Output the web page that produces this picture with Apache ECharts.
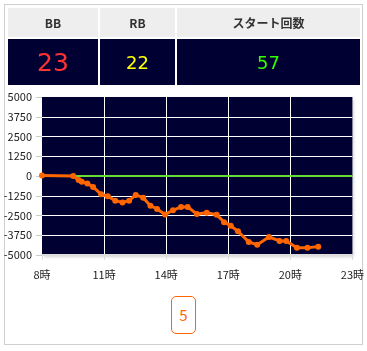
<!DOCTYPE html>
<html>
<head>
<meta charset="utf-8">
<script src="https://cdn.jsdelivr.net/npm/echarts@6/dist/echarts.min.js"></script>
<style>
html,body{margin:0;padding:0;width:367px;height:351px;background:#fff;overflow:hidden;font-family:"Noto Sans CJK JP","Noto Sans",sans-serif;}
#frame{position:absolute;left:4px;top:4px;width:357px;height:339px;border:1px solid #cfcfcf;box-sizing:content-box;}
#chart{position:absolute;left:0;top:0;width:367px;height:351px;}
table{position:absolute;left:6px;top:6px;width:356px;border-collapse:collapse;z-index:2;}
td,th{border:2px solid #fff;text-align:center;padding:0;}
th{background:#eeeeee;height:29px;font-size:12px;font-weight:bold;color:#333;}
td{background:#000033;height:46px;}
#btn{position:absolute;left:171px;top:296px;width:23px;height:36px;border:1px solid #ff6600;border-radius:5px;color:#ff6600;font-size:15px;line-height:36px;text-align:center;z-index:2;background:#fff;}
</style>
</head>
<body>
<div id="frame"></div>
<div id="chart"></div>
<table>
<tr><th style="width:90px">BB</th><th style="width:75px">RB</th><th>スタート回数</th></tr>
<tr><td id="c0"></td><td id="c1"></td><td id="c2"></td></tr>
</table>
<div id="btn">5</div>
<script>
var headers = ["BB", "RB", "スタート回数"];
var counts = [23, 22, 57];
var times = [8.0, 9.51, 9.77, 9.92, 10.19, 10.47, 10.86, 11.18, 11.54, 11.89, 12.21, 12.53, 12.89, 13.24, 13.56, 13.95, 14.33, 14.72, 15.04, 15.48, 15.96, 16.44, 16.8, 17.12, 17.47, 17.99, 18.4, 18.97, 19.48, 19.8, 20.32, 20.83, 21.35];
var values = [30, 0, -250, -370, -480, -690, -1160, -1280, -1560, -1670, -1560, -1200, -1370, -1880, -2090, -2430, -2170, -1960, -1960, -2400, -2320, -2450, -2920, -3150, -3500, -4170, -4350, -3860, -4110, -4110, -4540, -4540, -4470];
var yTicks = [-5000, -3750, -2500, -1250, 0, 1250, 2500, 3750, 5000];
var xTicks = [8, 11, 14, 17, 20, 23];

var styles = [
  {color:"#ff3333", size:"25px"},
  {color:"#ffff00", size:"18px"},
  {color:"#33ff00", size:"18px"}
];
for (var i = 0; i < counts.length; i++) {
  var c = document.getElementById("c" + i);
  c.textContent = counts[i];
  c.style.color = styles[i].color;
  c.style.fontSize = styles[i].size;
  c.style.fontFamily = '"DejaVu Sans", sans-serif';
}

var data = times.map(function (t, i) { return [t, values[i]]; });
var chart = echarts.init(document.getElementById("chart"), null, {renderer: "canvas"});
chart.setOption({
  animation: false,
  grid: {
    left: 42, right: 14.5, top: 97, height: 158,
    show: true, backgroundColor: "#000033", borderWidth: 0,
    shadowColor: "rgba(0,0,0,0.18)", shadowBlur: 3, shadowOffsetX: 2, shadowOffsetY: 2
  },
  xAxis: {
    type: "value", min: xTicks[0], max: xTicks[xTicks.length - 1], interval: 3,
    axisLine: {show: true, onZero: false, lineStyle: {color: "#dddddd", width: 2}},
    axisTick: {show: true, length: 5, lineStyle: {color: "#dddddd"}},
    axisLabel: {margin: 14, fontSize: 11, color: "#222", fontFamily: '"Noto Sans CJK JP", sans-serif',
      formatter: function (v) { return v + "時"; }},
    splitLine: {show: true, showMinLine: false, showMaxLine: false, lineStyle: {color: "#ffffff", width: 1}}
  },
  yAxis: {
    type: "value", min: yTicks[0], max: yTicks[yTicks.length - 1], interval: 1250,
    axisLine: {show: false},
    axisTick: {show: true, length: 6, lineStyle: {color: "#cccccc"}},
    axisLabel: {margin: 10, fontSize: 11, color: "#222", fontFamily: '"Noto Sans CJK JP", sans-serif',
      formatter: function (v) { return String(v); }},
    splitLine: {show: true, showMinLine: false, showMaxLine: false, lineStyle: {color: "#ffffff", width: 1}}
  },
  series: [{
    type: "line",
    data: data,
    symbol: "circle",
    symbolSize: 6,
    lineStyle: {color: "#ff6600", width: 3},
    itemStyle: {color: "#ff6600"},
    z: 5,
    markLine: {
      silent: true, symbol: "none", label: {show: false},
      lineStyle: {color: "#66dd33", width: 2, type: "solid"},
      data: [{yAxis: 0}],
      z: 3
    }
  }]
});
</script>
</body>
</html>
